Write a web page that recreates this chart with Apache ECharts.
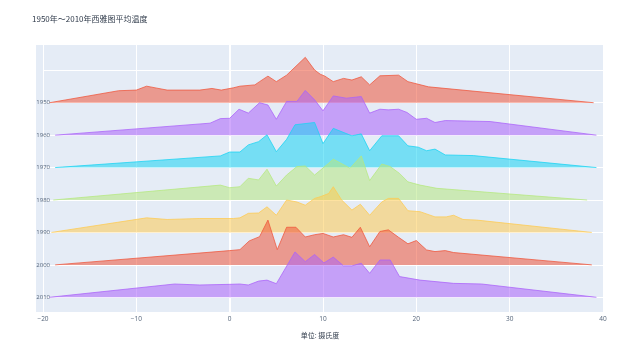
<!DOCTYPE html>
<html>
<head>
<meta charset="utf-8">
<script src="https://cdn.jsdelivr.net/npm/echarts@6/dist/echarts.min.js"></script>
<style>
  html, body { margin: 0; padding: 0; background: #ffffff; }
  #chart { width: 640px; height: 347px; }
</style>
</head>
<body>
<div id="chart"></div>
<script>
// Decades shown, top row first
const years = ['1950', '1960', '1970', '1980', '1990', '2000', '2010'];
const colors = ['#EF553B', '#AB63FA', '#19D3F3', '#B6E880', '#FECB52', '#EF553B', '#AB63FA'];
const xTicks = [-20, -10, 0, 10, 20, 30, 40];

// Ridge profiles: [temperature °C, relative density]
const profile1950 = [[-19.3,0],[-11.9,0.37],[-10,0.39],[-8.9,0.51],[-7.8,0.45],[-6.7,0.39],[-3.2,0.39],[-1.9,0.44],[-0.9,0.39],[0.4,0.46],[1.1,0.51],[2.7,0.55],[3.2,0.65],[4.1,0.82],[5,0.65],[6.1,0.85],[8.1,1.40],[9.1,1.01],[9.7,0.88],[10.2,0.82],[11.1,0.65],[12.2,0.75],[13.1,0.70],[14.1,0.80],[15,0.55],[16.1,0.83],[18.1,0.85],[19.1,0.65],[21.3,0.49],[39,0]];
const profile1960 = [[-18.7,0],[-2.1,0.37],[-1,0.51],[0,0.52],[1,0.80],[2,0.68],[3.2,1.0],[4.1,0.93],[5,0.49],[6.1,1.04],[7.2,1.04],[8.1,1.38],[9.1,1.09],[10,0.75],[11.1,1.21],[12.5,1.14],[14.1,1.19],[15,0.68],[16.1,0.80],[17,0.78],[18.1,0.80],[19,0.70],[20,0.49],[21.1,0.52],[22,0.39],[23.1,0.45],[27.9,0.42],[39.3,0]];
const profile1970 = [[-18.7,0],[-1,0.36],[0,0.48],[1.1,0.48],[2,0.70],[3.1,0.80],[4,1.01],[5,0.49],[6.1,0.87],[7,1.32],[9.1,1.39],[10,0.74],[11.1,1.21],[13.1,0.98],[14.1,1.04],[15,0.52],[16.3,0.98],[18.1,0.98],[19.1,0.67],[20.2,0.63],[21.1,0.52],[22,0.57],[23.1,0.39],[26.1,0.37],[39.3,0]];
const profile1980 = [[-18.9,0],[-1,0.46],[0,0.38],[1.1,0.41],[2,0.67],[3.1,0.62],[4,0.95],[5,0.43],[6.1,0.77],[7.2,1.03],[8.1,1.05],[9.1,0.77],[10.6,1.13],[11.1,1.26],[12.9,0.98],[14.1,1.36],[15,0.60],[16.3,1.11],[17.2,1.03],[18.2,0.82],[19.1,0.56],[20.4,0.46],[22.2,0.36],[38.3,0]];
const profile1990 = [[-19.1,0],[-8.9,0.45],[-6.7,0.40],[-3.2,0.43],[0.4,0.43],[1.1,0.45],[2,0.59],[3.1,0.60],[4,0.79],[5,0.53],[6.1,1.0],[7.2,0.94],[8.1,0.84],[9.1,1.05],[9.7,1.10],[10.6,1.20],[11.1,1.41],[12,1.0],[13.1,0.69],[14,0.87],[15,0.53],[16.3,0.94],[17,1.05],[18.1,1.05],[19.1,0.67],[20.4,0.64],[22,0.48],[23.2,0.48],[24,0.53],[25,0.40],[26.5,0.38],[38.8,0]];
const profile2000 = [[-18.7,0],[0,0.44],[1.1,0.47],[2.1,0.74],[3.2,0.87],[4.1,1.38],[5.1,0.47],[6.1,1.16],[7.1,1.16],[8.1,0.86],[9.1,0.93],[10,0.97],[11.1,0.86],[12.2,0.93],[13.1,0.85],[14,1.16],[15,0.56],[16.1,1.03],[17,1.08],[18.1,0.85],[19.1,0.65],[20,0.75],[21.1,0.46],[22,0.41],[23.1,0.44],[24,0.38],[38.8,0]];
const profile2010 = [[-19.3,0],[-5.9,0.41],[-3.2,0.38],[0,0.40],[1.1,0.41],[2,0.38],[3.1,0.50],[4,0.53],[5,0.42],[7,1.40],[8.1,1.10],[9.1,1.32],[10.1,1.06],[11.1,1.24],[12.2,0.97],[13.1,0.97],[14.1,1.05],[15,0.74],[16.1,1.15],[17.2,1.15],[18.2,0.64],[20.4,0.53],[24,0.43],[27,0.41],[39.3,0]];

const profiles = [profile1950, profile1960, profile1970, profile1980, profile1990, profile2000, profile2010];

const rowCount = years.length;
// each decade sits on its own baseline; the top decade has the highest baseline
const rowOf = i => rowCount - 1 - i;

const ridgeSeries = profiles.map((profile, i) => {
  const row = rowOf(i);
  return {
    name: years[i],
    type: 'line',
    z: 3 + i,
    symbol: 'none',
    silent: true,
    data: profile.map(([t, d]) => [t, row + d]),
    lineStyle: { color: colors[i], width: 0.9, opacity: 0.85 },
    areaStyle: { color: colors[i], opacity: 0.55, origin: row },
    emphasis: { disabled: true }
  };
});

// White grid lines under the ridges: one per baseline plus the zero line
const rowLines = [];
for (let r = 0; r <= rowCount; r++) rowLines.push({ yAxis: r });

const gridSeries = {
  type: 'line',
  z: 1,
  data: [],
  silent: true,
  markLine: {
    z: 1,
    silent: true,
    symbol: 'none',
    label: { show: false },
    lineStyle: { color: '#ffffff', width: 1, type: 'solid' },
    data: rowLines.concat([{ xAxis: 0, lineStyle: { color: '#ffffff', width: 2, type: 'solid' } }])
  }
};

const chart = echarts.init(document.getElementById('chart'), null, { renderer: 'canvas' });
chart.setOption({
  animation: false,
  backgroundColor: '#ffffff',
  title: {
    text: '1950年～2010年西雅图平均温度',
    left: 32, top: 15, padding: 0,
    textStyle: { fontFamily: 'Noto Sans CJK SC', fontSize: 8, fontWeight: 'normal', color: '#2f3a4a' }
  },
  graphic: {
    elements: [{
      type: 'rect', z: -10, silent: true,
      shape: { x: 36, y: 45, width: 8, height: 267 },
      style: { fill: '#E5ECF6' }
    }]
  },
  grid: {
    left: 43, right: 37, top: 45, bottom: 35,
    show: true, backgroundColor: '#E5ECF6', borderWidth: 0
  },
  xAxis: {
    type: 'value',
    min: xTicks[0], max: xTicks[xTicks.length - 1], interval: 10,
    axisLine: { show: false },
    axisTick: { show: false },
    splitLine: { show: true, lineStyle: { color: '#ffffff', width: 1 } },
    axisLabel: {
      margin: 4, fontSize: 6.5, color: '#55657a', fontFamily: 'Open Sans',
      formatter: v => String(v).replace('-', '\u2212')
    },
    name: '单位: 摄氏度',
    nameLocation: 'middle', nameGap: 20,
    nameTextStyle: { fontSize: 7, color: '#2f3a4a', fontFamily: 'Noto Sans CJK SC', padding: [0, 6, 0, 0] }
  },
  yAxis: {
    type: 'value',
    min: -0.453, max: 7.78,
    z: 5,
    axisLine: { show: false },
    axisTick: { show: false },
    splitLine: { show: false },
    axisLabel: {
      customValues: [0, 1, 2, 3, 4, 5, 6],
      formatter: v => years[rowCount - 1 - Math.round(v)],
      margin: -7, fontSize: 6, color: '#55657a', fontFamily: 'Open Sans',
      padding: [0, 0, 7, 0]
    }
  },
  series: [gridSeries].concat(ridgeSeries)
});
</script>
</body>
</html>
